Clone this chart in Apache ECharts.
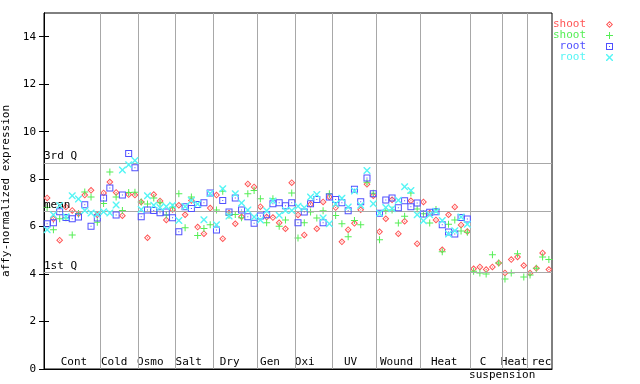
<!DOCTYPE html>
<html><head><meta charset="utf-8">
<script src="https://cdn.jsdelivr.net/npm/echarts@6/dist/echarts.min.js"></script>
<style>html,body{margin:0;padding:0;background:#fff}#c{width:640px;height:384px}</style>
</head><body><div id="c"></div>
<script>
// ---- data ----
const groups = ['Cont','Cold','Osmo','Salt','Dry','Gen','Oxi','UV','Wound','Heat','C','Heat','rec'];
const groupSizes = [9,6,6,6,7,6,6,7,7,8,5,4,4];
const groupLabelPos = [4.78, 11.2, 16.95, 23.08, 29.6, 36.04, 41.58, 48.88, 56.2, 63.8, 70.0, 74.96, 79.3];
const subLabel = 'suspension';
const subLabelPos = 73.05;
const yTicks = [0, 2, 4, 6, 8, 10, 12, 14];
const refNames = ['3rd Q', 'mean', '1st Q'];
const refValues = [8.69, 6.63, 4.06];
const seriesNames = ['shoot', 'shoot', 'root', 'root'];

const shootRep1 = [
  7.21, 6.33, 5.43, 6.83, 6.68, 6.54, 7.33, 7.53, 6.5,
  7.42, 7.88, 7.44, 6.46, 7.35, 7.33,
  7.04, 5.53, 7.35, 7.08, 6.28, 6.72,
  6.9, 6.5, 7.1, 5.98, 5.7, 6.78,
  7.33, 5.49, 6.57, 6.12, 6.41, 7.8, 7.67,
  6.84, 6.4, 6.38, 6.16, 5.91, 7.85,
  6.49, 5.65, 6.94, 5.91, 7.04, 7.25,
  6.8, 5.36, 5.87, 6.14, 6.71, 7.78, 7.3,
  5.78, 6.33, 7.13, 5.7, 6.23, 7.09, 5.28,
  7.04, 6.57, 6.28, 5.02, 6.5, 6.83, 6.07, 5.79,
  4.22, 4.3, 4.19, 4.3, 4.47,
  4.05, 4.61, 4.72, 4.36,
  4.05, 4.24, 4.89, 4.19
];
const shootRep2 = [
  6.8, 5.87, 6.33, 6.37, 5.65, 6.55, 7.46, 7.25, 6.18,
  6.97, 8.3, 7.25, 6.68, 7.44, 7.45,
  7.04, 6.95, 7.2, 7.0, 6.49, 6.82,
  7.38, 5.95, 7.25, 5.62, 5.92, 6.08,
  6.7, 7.49, 6.48, 6.51, 6.37, 7.38, 7.52,
  7.17, 6.16, 7.17, 6.02, 6.28, 7.42,
  5.52, 6.16, 6.62, 6.36, 6.67, 7.38,
  6.47, 6.12, 5.57, 6.26, 6.08, 7.87, 7.4,
  5.45, 6.67, 6.7, 6.15, 6.44, 7.42, 6.74,
  6.54, 6.15, 6.72, 4.94, 6.1, 6.28, 5.81, 5.76,
  4.12, 4.05, 4.0, 4.81, 4.47,
  3.79, 4.05, 4.86, 3.88,
  3.96, 4.24, 4.72, 4.61
];
const rootRep1 = [
  6.12, 6.16, 6.63, 6.38, 6.33, 6.4, 6.92, 6.02, 6.36,
  7.21, 7.63, 6.49, 7.33, 9.08, 8.48,
  6.42, 6.7, 6.68, 6.58, 6.62, 6.37,
  5.78, 6.84, 6.76, 6.93, 7.0, 7.42,
  5.86, 7.1, 6.62, 7.21, 6.7, 6.42, 6.14,
  6.45, 6.5, 6.96, 7.0, 6.88, 7.0,
  6.16, 6.62, 6.96, 7.14, 6.16, 7.25,
  7.14, 7.0, 6.67, 7.57, 7.05, 8.05, 7.38,
  6.56, 7.12, 7.21, 6.79, 7.09, 6.84, 6.99,
  6.53, 6.6, 6.63, 6.08, 5.77, 5.69, 6.38, 6.32
];
const rootRep2 = [
  5.87, 6.5, 6.89, 6.41, 7.3, 7.16, 6.68, 6.57, 6.52,
  6.63, 6.57, 6.91, 8.39, 8.61, 8.78,
  6.72, 7.3, 6.9, 6.8, 6.85, 6.9,
  6.26, 6.85, 7.1, 6.95, 6.29, 7.39,
  6.08, 7.6, 6.45, 7.38, 6.99, 6.7, 6.4,
  6.28, 6.67, 7.08, 6.48, 6.68, 6.68,
  6.86, 6.79, 7.25, 7.35, 6.36, 6.12,
  6.95, 7.19, 6.83, 7.5, 6.9, 8.36, 6.96,
  6.56, 6.8, 6.75, 7.11, 7.68, 7.52, 6.5,
  6.25, 6.5, 6.65, 6.26, 5.69, 5.82, 6.4, 6.1
];

// ---- build ----
const FONT = 'DejaVu Sans Mono';
const colors = ['#ff5555', '#55ee55', '#5050ff', '#55f5f5'];
const symbols = [
  'path://M3.5,0L7,3.5L3.5,7L0,3.5Z M3.5,1.4L1.4,3.5L3.5,5.6L5.6,3.5Z M3,3H4V4H3Z',
  'path://M3,0H4V3H7V4H4V7H3V4H0V3H3Z',
  'path://M0,0H7V7H0Z M1,1V6H6V1Z M3,3H4V4H3Z',
  'path://M0,0H1L3.5,2.5L6,0H7V1L4.5,3.5L7,6V7H6L3.5,4.5L1,7H0V6L2.5,3.5L0,1Z'
];
const allData = [shootRep1, shootRep2, rootRep1, rootRep2];
let acc = 0; const boundaries = [];
groupSizes.forEach((n, k) => { acc += n; if (k < groupSizes.length - 1) boundaries.push(acc); });
const total = acc;
const ids = ['s1', 's2', 'r1', 'r2'];

const markData = boundaries.map(b => ({ xAxis: b, label: { show: false } }))
  .concat(refValues.map((v, k) => ({
    yAxis: v,
    label: { show: true, formatter: refNames[k], position: 'insideStartTop', distance: [0, 1],
             color: '#000', fontFamily: FONT, fontSize: 11 }
  })));

const series = allData.map((arr, s) => ({
  name: ids[s],
  type: 'scatter',
  data: arr.map((v, i) => [i + 0.5, v]),
  symbol: symbols[s],
  symbolSize: 7,
  itemStyle: { color: colors[s], opacity: 1 },
  emphasis: { disabled: true },
  z: 3 + s,
  markLine: s === 0 ? {
    silent: true, symbol: ['none', 'none'], animation: false,
    lineStyle: { color: '#a8a8a8', type: 'solid', width: 1 },
    data: markData
  } : undefined
}));

function nearestLabel(v) {
  let best = 0;
  groupLabelPos.forEach((p, k) => { if (Math.abs(p - v) < Math.abs(groupLabelPos[best] - v)) best = k; });
  return groups[best];
}

const chart = echarts.init(document.getElementById('c'));
chart.setOption({
  animation: false,
  backgroundColor: '#fff',
  grid: { left: 44, right: 88, top: 13, bottom: 15, show: true, borderColor: '#000', borderWidth: 1,
          backgroundColor: 'transparent', containLabel: false, outerBoundsMode: 'none' },
  legend: {
    orient: 'vertical', right: 27, top: 19, padding: 0, itemGap: 0,
    itemWidth: 7, itemHeight: 7, align: 'right', selectedMode: false,
    formatter: n => seriesNames[ids.indexOf(n)],
    textStyle: { fontFamily: FONT, fontSize: 11, lineHeight: 11, padding: [0, 15, 0, 0] },
    data: ids.map((id, s) => ({ name: id, textStyle: { color: colors[s] } }))
  },
  xAxis: [{
    type: 'value', min: 0, max: total, position: 'bottom',
    axisLine: { show: true, onZero: false, lineStyle: { color: '#000', width: 1 } },
    axisTick: { show: false },
    splitLine: { show: false },
    axisLabel: { inside: true, margin: 1, customValues: groupLabelPos, formatter: nearestLabel,
                 color: '#000', fontFamily: FONT, fontSize: 11 }
  }, {
    type: 'value', min: 0, max: total, position: 'bottom',
    axisLine: { show: false }, axisTick: { show: false }, splitLine: { show: false },
    axisLabel: { margin: 1, customValues: [subLabelPos], formatter: () => subLabel,
                 color: '#000', fontFamily: FONT, fontSize: 11 }
  }],
  yAxis: [{
    type: 'value', min: 0, max: 15, interval: 2, position: 'left',
    name: 'affy-normalized expression', nameLocation: 'middle', nameGap: 27, nameRotate: 90,
    nameTextStyle: { color: '#000', fontFamily: FONT, fontSize: 11 },
    axisLine: { show: true, lineStyle: { color: '#000' } },
    axisTick: { show: true, inside: true, length: 5, customValues: yTicks, lineStyle: { color: '#000' } },
    axisLabel: { margin: 8, customValues: yTicks, color: '#000', fontFamily: FONT, fontSize: 11 },
    splitLine: { show: false }
  }, {
    type: 'value', min: 0, max: 15, interval: 2, position: 'right',
    axisLine: { show: true, lineStyle: { color: '#000' } },
    axisTick: { show: true, inside: true, length: 5, customValues: yTicks, lineStyle: { color: '#000' } },
    axisLabel: { show: false },
    splitLine: { show: false }
  }],
  series: series
});
</script>
</body></html>
